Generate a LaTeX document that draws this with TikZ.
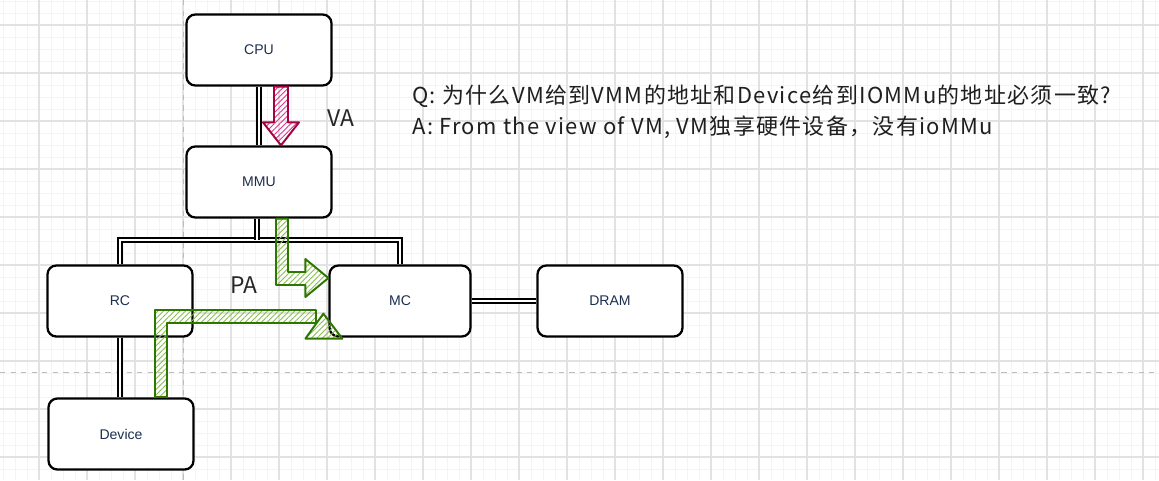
\documentclass[tikz,border=0pt]{standalone}
\usepackage{fontspec}
\setmainfont{Liberation Sans}
\newfontfamily\cjk{Noto Sans CJK SC}
\newfontfamily\cjkwide[LetterSpace=6]{Noto Sans CJK SC}
\usetikzlibrary{calc,patterns.meta}

\definecolor{gridminor}{HTML}{F4F4F4}
\definecolor{gridmajor}{HTML}{E2E2E2}
\definecolor{griddash}{HTML}{BDBDBD}
\definecolor{boxtext}{HTML}{1C2F4F}
\definecolor{vastroke}{HTML}{A50040}
\definecolor{vafill}{HTML}{D80073}
\definecolor{pastroke}{HTML}{2D7600}
\definecolor{pafill}{HTML}{60A917}

\begin{document}
\begin{tikzpicture}[x=0.02cm, y=-0.02cm,
  unit/.style={draw, line width=1.3pt, rounded corners=5pt, fill=white,
    minimum width=2.9cm, minimum height=1.42cm,
    font=\fontsize{8}{10}\selectfont, text=boxtext},
  wire/.style={draw=black, double=white, line width=0.8pt, double distance=1.3pt},
  va/.style={draw=vastroke, line width=1.1pt, line join=round,
    pattern={Lines[angle=45,distance=2.2pt,line width=0.5pt]}, pattern color=vafill!80},
  pa/.style={draw=pastroke, line width=1.1pt, line join=round,
    pattern={Lines[angle=45,distance=2.2pt,line width=0.5pt]}, pattern color=pafill!75},
  lbl/.style={font=\cjk\fontsize{13}{15}\selectfont, text=black!85},
  qa/.style={font=\cjkwide\fontsize{12.5}{15}\selectfont, text=black!88, anchor=west, inner sep=0pt}]

  % grid paper
  \fill[white] (0,0) rectangle (1159,480);
  \useasboundingbox (0,0) rectangle (1159,480);
  \foreach \gx in {3,15,...,1159} \draw[gridminor, line width=0.5pt] (\gx,0) -- (\gx,480);
  \foreach \gy in {1,13,...,480} \draw[gridminor, line width=0.5pt] (0,\gy) -- (1159,\gy);
  \foreach \gx in {39,87,...,1159} \draw[gridmajor, line width=0.6pt] (\gx,0) -- (\gx,480);
  \foreach \gy in {25,73,...,480} \draw[gridmajor, line width=0.6pt] (0,\gy) -- (1159,\gy);
  \draw[griddash, dashed, line width=0.5pt] (183,0) -- (183,480);
  \draw[griddash, dashed, line width=0.5pt] (0,372) -- (1159,372);

  % units
  \node[unit] (cpu)    at (259,50)  {CPU};
  \node[unit] (mmu)    at (259,182) {MMU};
  \node[unit] (rc)     at (120,301) {RC};
  \node[unit, minimum width=2.82cm] (mc) at (400,301) {MC};
  \node[unit] (dram)   at (610,301) {DRAM};
  \node[unit] (device) at (121,434) {Device};

  % wires
  \coordinate (bus) at (257,240);
  \draw[wire] (cpu.south) -- (mmu.north);
  \draw[wire] (rc.north) |- (bus) -| (mc.north);
  \draw[wire] (mmu.south -| bus) -- (bus);
  \draw[wire] (rc.south) -- (rc.south |- device.north);
  \draw[wire] (mc.east) -- (dram.west);

  % VA: CPU -> MMU
  \coordinate (vatop) at ($(cpu.south)+(22,0)$);
  \coordinate (vatip) at ($(mmu.north)+(22,0)$);
  \draw[va] ($(vatop)+(-7,0)$) -- ($(vatop)+(7,0)$) -- ($(vatip)+(7,-23)$)
    -- ($(vatip)+(18,-23)$) -- (vatip) -- ($(vatip)+(-18,-23)$)
    -- ($(vatip)+(-7,-23)$) -- cycle;
  \node[lbl] (valbl) at (341,118) {VA};

  % PA: MMU -> MC
  \coordinate (patop) at ($(mmu.south)+(23,0)$);
  \coordinate (patip) at ($(mc.west)+(0,-23)$);
  \coordinate (pa1) at ($(patop)+(-6,0)$);
  \coordinate (pa2) at ($(patop)+(6,0)$);
  \coordinate (pa3) at ($(patip)+(-23,-6)$);
  \coordinate (pa4) at ($(patip)+(-23,7)$);
  \draw[pa] (pa1) -- (pa2) -- (pa2 |- pa3) -- (pa3) -- ($(patip)+(-23,-19)$)
    -- (patip) -- ($(patip)+(-23,19)$) -- (pa4) -- (pa1 |- pa4) -- cycle;
  \node[lbl] (palbl) at (244,285) {PA};

  % PA: Device -> MC
  \coordinate (devtop) at ($(device.north)+(40,0)$);
  \coordinate (dmtip) at ($(mc.south west)+(-5,-24)$);
  \coordinate (dv1) at ($(devtop)+(-6,0)$);
  \coordinate (dv2) at ($(devtop)+(6,0)$);
  \coordinate (dv3) at ($(dmtip)+(-7,9)$);
  \coordinate (dv4) at ($(dmtip)+(-7,-4)$);
  \draw[pa] (dv1) -- (dv2) -- (dv2 |- dv3) -- (dv3) -- (dv4) -- (dv1 |- dv4) -- cycle;
  \draw[pa] ($(dmtip)+(-18,25)$) -- (dmtip) -- ($(dmtip)+(19,25)$) -- cycle;

  % question
  \node[qa] (q) at (412,96) {Q: 为什么VM给到VMM的地址和Device给到IOMMu的地址必须一致?};
  \node[qa] (a) at (412,127) {A: From the view of VM, VM独享硬件设备，没有ioMMu};
\end{tikzpicture}
\end{document}
